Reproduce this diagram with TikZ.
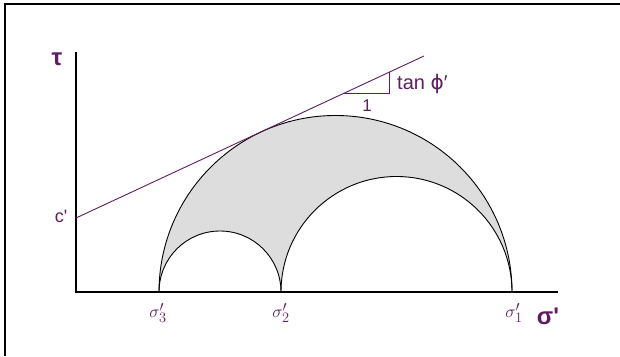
\documentclass[tikz,border=0pt]{standalone}
\usepackage{fontspec}
\setmainfont{Liberation Sans}
\newfontfamily\dvfont{DejaVu Sans}
\definecolor{purp}{RGB}{96,28,96}
\definecolor{mohrgray}{RGB}{221,221,221}
\begin{document}
\begin{tikzpicture}[x=1pt,y=1pt,
  axisline/.style={line width=2.2pt,black},
  circ/.style={line width=0.9pt,black},
  envline/.style={line width=0.9pt,purp},
  lab/.style={text=purp,inner sep=0pt},
  biglab/.style={text=purp,inner sep=0pt,font=\fontsize{24}{24}\selectfont\bfseries},
  siglab/.style={text=purp,inner sep=0pt,font=\fontsize{19}{19}\selectfont}]
\useasboundingbox (0,0) rectangle (620,356);
% frame (top and left edges only)
\draw[line width=2pt] (620,352) -- (5,352) -- (5,0);
% shaded region
\fill[mohrgray] (159,64) arc[start angle=180,end angle=0,radius=176.5]
  arc[start angle=0,end angle=180,radius=115.5]
  arc[start angle=0,end angle=180,radius=61] -- cycle;
% Mohr circles
\coordinate (s3) at (159,64);
\coordinate (s2) at (281,64);
\coordinate (s1) at (512,64);
\draw[circ] (s3) arc[start angle=180,end angle=0,radius=176.5];
\draw[circ] (s2) arc[start angle=180,end angle=0,radius=115.5];
\draw[circ] (s3) arc[start angle=180,end angle=0,radius=61];
% axes
\coordinate (O) at (76,64);
\coordinate (ytop) at (76,304);
\coordinate (xend) at (558,64);
\draw[axisline] (ytop) -- (O) -- (xend);
% failure envelope
\coordinate (cpt) at (76,138);
\coordinate (lend) at (424,300);
\draw[envline] (cpt) -- (lend);
% slope triangle
\coordinate (ta) at (344,262.7);
\coordinate (tb) at (389.3,262.7);
\coordinate (tc) at (389.3,283.7);
\draw[envline] (ta) -- (tb) -- (tc);
% labels
\node[biglab] (tau) at (57,297) {τ};
\node[biglab] (sig) at (548,40) {σ\textquotesingle};
\node[lab,font=\fontsize{18}{18}\selectfont] (c) at (61,140) {c\textquotesingle};
\node[lab,font=\fontsize{20}{20}\selectfont,anchor=west] (tanp) at (397,272) {tan {\dvfont ϕ}′};
\node[lab,font=\fontsize{17}{17}\selectfont] (one) at (367,250) {1};
\node[siglab] (l3) at (158,43) {$\sigma_3'$};
\node[siglab] (l2) at (281,43) {$\sigma_2'$};
\node[siglab] (l1) at (514,43) {$\sigma_1'$};
\end{tikzpicture}
\end{document}
